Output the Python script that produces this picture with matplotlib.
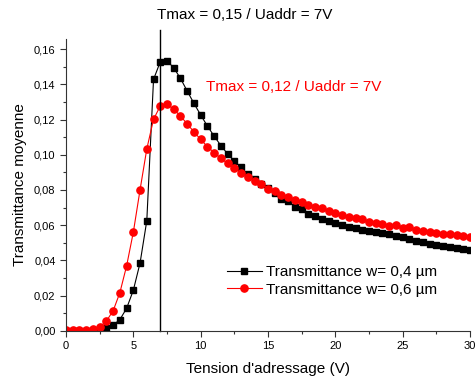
import matplotlib
matplotlib.use("Agg")
import matplotlib.pyplot as plt
from matplotlib.ticker import MultipleLocator, FuncFormatter

# Tension d'adressage (V)
tension = [0, 0.5, 1, 1.5, 2, 2.5, 3, 3.5, 4, 4.5, 5, 5.5, 6, 6.5, 7, 7.5, 8, 8.5, 9, 9.5,
           10, 10.5, 11, 11.5, 12, 12.5, 13, 13.5, 14, 14.5, 15, 15.5, 16, 16.5, 17, 17.5,
           18, 18.5, 19, 19.5, 20, 20.5, 21, 21.5, 22, 22.5, 23, 23.5, 24, 24.5, 25, 25.5,
           26, 26.5, 27, 27.5, 28, 28.5, 29, 29.5, 30]

# w = 0,4 um
t_04 = [0, 0, 0, 0, 0, 0.0003, 0.0017, 0.0032, 0.0063, 0.0127, 0.023, 0.0385, 0.0625,
        0.1428, 0.1528, 0.1534, 0.1494, 0.1434, 0.1362, 0.1292, 0.1226, 0.1163, 0.1106,
        0.1052, 0.1005, 0.0965, 0.0928, 0.089, 0.0862, 0.0835, 0.081, 0.0785, 0.0749,
        0.0738, 0.0705, 0.069, 0.0665, 0.0652, 0.0635, 0.0622, 0.061, 0.0601, 0.0592,
        0.0583, 0.0573, 0.0566, 0.0559, 0.0553, 0.0549, 0.0538, 0.053, 0.0521, 0.0512,
        0.0503, 0.0493, 0.0486, 0.048, 0.0475, 0.047, 0.0463, 0.0458]

# w = 0,6 um
t_06 = [0.0005, 0.0005, 0.0005, 0.0005, 0.0008, 0.002, 0.0055, 0.0113, 0.0216, 0.0368,
        0.056, 0.0801, 0.1033, 0.1201, 0.1277, 0.1288, 0.1258, 0.122, 0.1175, 0.113,
        0.1087, 0.1046, 0.1012, 0.098, 0.0951, 0.0922, 0.0897, 0.0875, 0.0852, 0.0833,
        0.0808, 0.0793, 0.0771, 0.0761, 0.0742, 0.0732, 0.0713, 0.0704, 0.0695, 0.0679,
        0.067, 0.0657, 0.0647, 0.0638, 0.0632, 0.0619, 0.0613, 0.0606, 0.0594, 0.0603,
        0.0581, 0.059, 0.0571, 0.0567, 0.0562, 0.0556, 0.0552, 0.0548, 0.0543, 0.0537,
        0.0533]

plt.rcParams['font.family'] = ['Liberation Sans', 'DejaVu Sans']

fig = plt.figure(figsize=(4.75, 3.81), dpi=100)
ax = fig.add_axes([66 / 475, 50.3 / 381, 404 / 475, 291.4 / 381])

ax.plot(tension, t_04, color="black", marker="s", markersize=4.8, linewidth=0.8,
        label="Transmittance w= 0,4 µm")
ax.plot(tension, t_06, color="red", marker="o", markersize=5.2, linewidth=0.8,
        label="Transmittance w= 0,6 µm")

# ligne verticale a Uaddr = 7V
ax.plot([7, 7], [0, 0.171], color="black", linewidth=1, clip_on=False)

ax.set_xlim(0, 30)
ax.set_ylim(0, 0.1656)
ax.xaxis.set_major_locator(MultipleLocator(5))
ax.xaxis.set_minor_locator(MultipleLocator(2.5))
ax.yaxis.set_major_locator(MultipleLocator(0.02))
ax.yaxis.set_minor_locator(MultipleLocator(0.01))
ax.yaxis.set_major_formatter(FuncFormatter(lambda v, p: ("%.2f" % v).replace(".", ",")))
ax.tick_params(which="both", direction="out", labelsize=8, width=0.8, color="#333333")
ax.tick_params(which="major", length=4)
ax.tick_params(which="minor", length=2.5)
for s in ["top", "right"]:
    ax.spines[s].set_visible(False)
for s in ["left", "bottom"]:
    ax.spines[s].set_color("#333333")

ax.set_xlabel("Tension d'adressage (V)", fontsize=11, labelpad=8)
ax.set_ylabel("Transmittance moyenne", fontsize=11, labelpad=5)

ax.text(10.4, 0.1386, "Tmax = 0,12 / Uaddr = 7V", color="red", fontsize=11,
        ha="left", va="center")
fig.text(245 / 475, 1 - 15 / 381, "Tmax = 0,15 / Uaddr = 7V", fontsize=11,
         ha="center", va="center")

ax.legend(loc="center left", bbox_to_anchor=(0.398, 0.1706), frameon=False,
          fontsize=11, borderpad=0, borderaxespad=0, handlelength=2.3,
          handletextpad=0.27, labelspacing=0.2)

fig.savefig("out.png", dpi=100)
